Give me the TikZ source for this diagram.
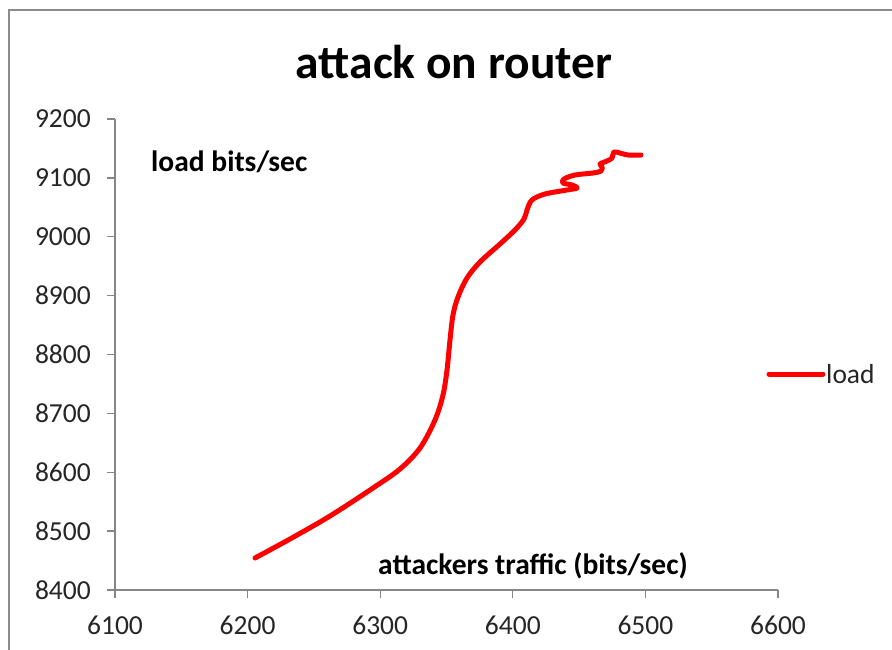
\documentclass[tikz,border=0pt]{standalone}
\usepackage{fontspec}
\setmainfont{Carlito}
\definecolor{axisgray}{HTML}{868686}
\definecolor{framegray}{HTML}{8C8C8C}
\definecolor{txt}{HTML}{262626}
\begin{document}
\begin{tikzpicture}[x=1pt,y=-1pt,
  axis/.style={draw=axisgray,line width=1.3pt},
  ticklab/.style={font=\fontsize{27.5}{30}\selectfont,text=txt,inner sep=0pt},
  boldlab/.style={font=\bfseries\fontsize{29.5}{32}\selectfont,text=black,inner sep=0pt},
  series/.style={draw=red,line width=5pt,line cap=round,line join=round}]
\useasboundingbox (0,0) rectangle (892,650);
\fill[white] (0,0) rectangle (892,650);
% frame (only left and top visible)
\draw[framegray,line width=2pt] (9,660) -- (9,10) -- (900,10);
% title
\node[font=\bfseries\fontsize{47.5}{50}\selectfont,inner sep=0pt] (title) at (454,62) {attack on router};
% axes
\coordinate (o) at (115,590);
\coordinate (ytop) at (115,119);
\coordinate (xend) at (778,590);
\draw[axis] (ytop) -- (o) -- (xend);
% y ticks and labels
\foreach \v [count=\i from 0] in {8400,8500,8600,8700,8800,8900,9000,9100,9200}{
  \draw[axis] (107,590-\i*58.875) -- (115,590-\i*58.875);
  \node[ticklab,anchor=east] (yl\i) at (91,590-\i*58.875) {\v};
}
% x ticks and labels
\foreach \v [count=\i from 0] in {6100,6200,6300,6400,6500,6600}{
  \draw[axis] (115+\i*132.6,590) -- (115+\i*132.6,598);
  \node[ticklab] (xl\i) at (115+\i*132.6,625) {\v};
}
% axis titles
\node[boldlab,anchor=west] (ytitle) at (151,162) {load bits/sec};
\node[boldlab,anchor=west] (xtitle) at (378,566) {attackers traffic (bits/sec)};
% series
\draw[series] plot[smooth,tension=0.55] coordinates {
(255,558) (290,539) (330,516) (373,488) (400,469) (420,448) (435,420) (443,395)
(447,370) (450,340) (453,315) (458,297) (467,278) (480,262) (500,244) (515,230)
(524,219) (527,210) (532,200) (545,194) (567,190) (577,188) (572,185) (563,183)
(564,179) (575,175) (593,173) (601,171) (602,167) (600,164) (607,161) (612,158)
(614,152) (620,153) (628,155) (641,155)};
% legend
\coordinate (lg1) at (769,374);
\coordinate (lg2) at (823,374);
\draw[series] (lg1) -- (lg2);
\node[ticklab,anchor=west] (legend) at (826,374) {load};
\end{tikzpicture}
\end{document}
